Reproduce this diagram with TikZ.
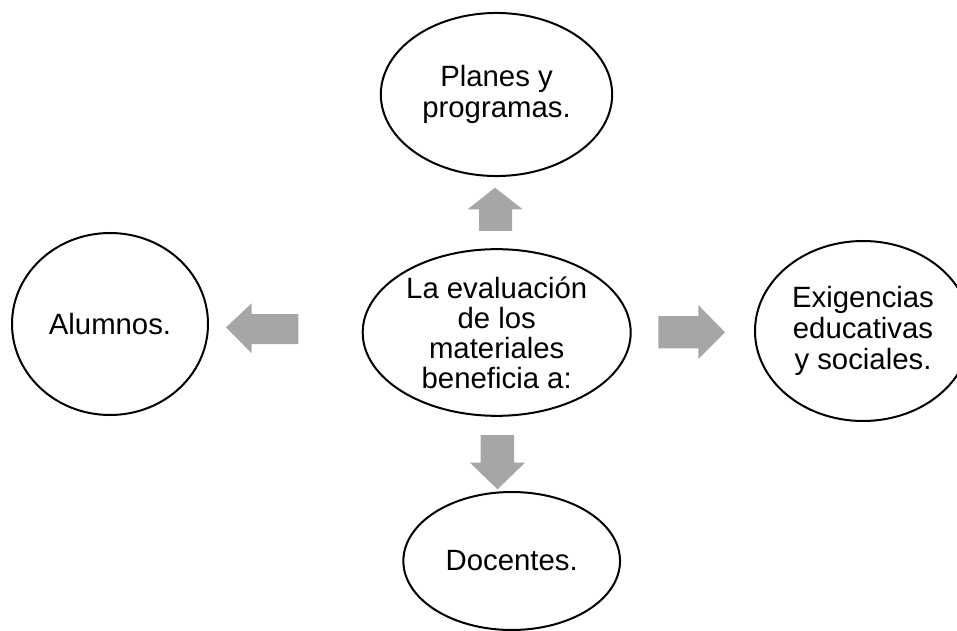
\documentclass[tikz,border=0pt]{standalone}
\usepackage{fontspec}
\setmainfont{Liberation Sans}
\usetikzlibrary{shapes.geometric}
\definecolor{arrowgray}{RGB}{166,166,166}
\begin{document}
\begin{tikzpicture}[x=0.75pt,y=-0.75pt,
  bubble/.style={ellipse, draw=black, line width=1.5pt, inner sep=0pt, align=center,
    font=\fontsize{22}{23.5}\selectfont},
  blockarrow/.style={fill=arrowgray, draw=none}]
\useasboundingbox (0,0) rectangle (957,631);
% ellipses
\node[bubble, minimum width=173.5pt, minimum height=122.3pt] (plans) at (496.5,94.5) {Planes y\\programas.};
\node[bubble, minimum width=201pt, minimum height=125pt, font=\fontsize{22}{22.5}\selectfont] (eval) at (496.7,332.5) {La evaluación\\de los\\materiales\\beneficia a:};
\node[bubble, minimum width=147pt, minimum height=136.5pt] (alum) at (110,324) {Alumnos.};
\node[bubble, minimum width=162pt, minimum height=135pt] (exig) at (863,331) {Exigencias\\educativas\\y sociales.};
\node[bubble, minimum width=162.5pt, minimum height=103.5pt] (doc) at (511.7,561) {Docentes.};
% block arrows
\fill[blockarrow] (495,187.7) -- (522.7,209.3) -- (512,209.3) -- (512,231) -- (479,231) -- (479,209.3) -- (467.7,209.3) -- cycle;
\fill[blockarrow] (226,327.3) -- (251.7,303.3) -- (251.7,314) -- (298.3,314) -- (298.3,344) -- (251.7,344) -- (251.7,353.3) -- cycle;
\fill[blockarrow] (725,332.3) -- (698.3,359) -- (698.3,348.3) -- (658.3,348.3) -- (658.3,316) -- (698.3,316) -- (698.3,305) -- cycle;
\fill[blockarrow] (497.5,489.3) -- (470,462.7) -- (480.7,462.7) -- (480.7,435) -- (514,435) -- (514,462.7) -- (525,462.7) -- cycle;
\end{tikzpicture}
\end{document}
